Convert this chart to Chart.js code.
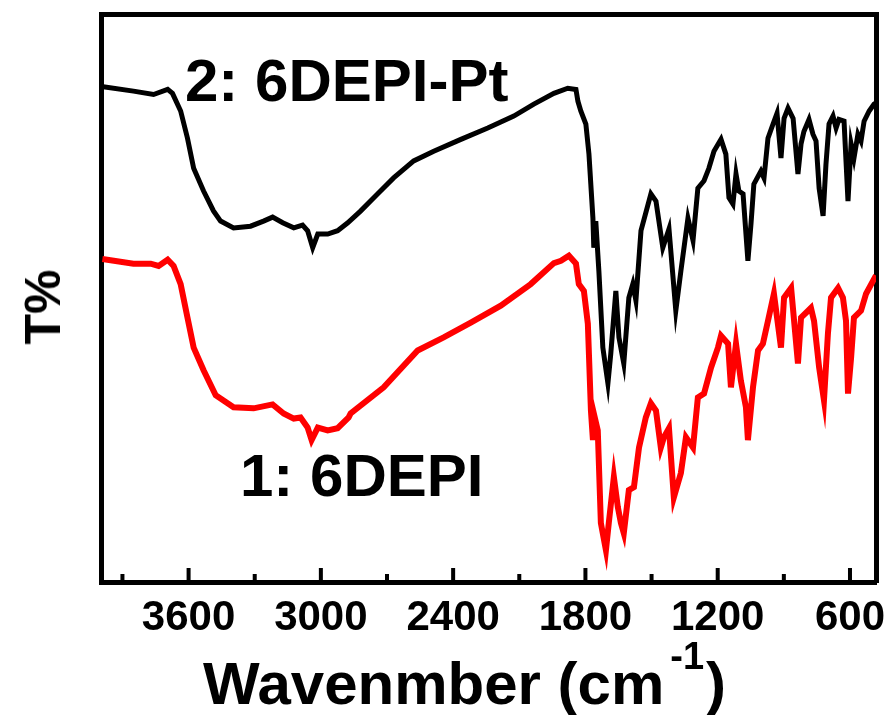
<!DOCTYPE html>
<html>
<head>
<meta charset="utf-8">
<script src="https://cdn.jsdelivr.net/npm/chart.js@4"></script>
<style>
  html, body { margin: 0; padding: 0; background: #fff; overflow: hidden; }
  #wrap { width: 889px; height: 715px; position: relative; }
  canvas { display: block; }
  .lbl { position: absolute; font-family: "Liberation Sans", Arial, sans-serif; font-weight: bold; color: #000; white-space: nowrap; }
  .big { font-size: 60px; line-height: 60px; }
  #ytitle { left: 43px; top: 307px; font-size: 50px; line-height: 50px; transform: translate(-50%, -50%) rotate(-90deg); }
  #xtitle sup { font-size: 38px; position: relative; top: -35px; vertical-align: baseline; line-height: 0; margin: 0 2px 0 6px; }
</style>
</head>
<body>
<div id="wrap">
  <canvas id="ftir" width="889" height="715"></canvas>
  <div class="lbl big" style="left:185px; top:51px;">2: 6DEPI-Pt</div>
  <div class="lbl big" style="left:240px; top:446px;">1: 6DEPI</div>
  <div class="lbl" id="ytitle">T%</div>
  <div class="lbl big" id="xtitle" style="left:203px; top:654px;">Wavenmber (cm<sup>-1</sup>)</div>
</div>
<script>
// 2: 6DEPI-Pt (black trace)
const ptWavenumber = [3995, 3850, 3759, 3695, 3673, 3636, 3605, 3577, 3532, 3487, 3455, 3396, 3319, 3260, 3219, 3173, 3123, 3083, 3060, 3037, 3014, 2969, 2924, 2878, 2819, 2742, 2670, 2579, 2488, 2365, 2243, 2125, 2034, 1943, 1880, 1843, 1834, 1821, 1798, 1784, 1766, 1762, 1753, 1739, 1721, 1698, 1685, 1662, 1648, 1626, 1603, 1585, 1571, 1548, 1503, 1480, 1449, 1421, 1390, 1367, 1335, 1312, 1290, 1262, 1240, 1217, 1185, 1163, 1149, 1131, 1117, 1104, 1085, 1063, 1049, 1036, 1004, 990, 972, 949, 931, 913, 899, 881, 858, 836, 822, 809, 786, 768, 754, 740, 722, 709, 695, 677, 663, 650, 627, 609, 595, 582, 564, 550, 536, 513, 491, 482];
const ptT = [87.3, 86.5, 85.9, 86.8, 86.1, 83.0, 78.2, 72.9, 68.9, 65.4, 63.6, 62.4, 62.7, 63.6, 64.3, 63.3, 62.4, 62.9, 61.9, 58.9, 61.3, 61.3, 61.9, 63.3, 65.4, 68.4, 71.2, 74.2, 75.9, 78.0, 80.0, 82.1, 84.2, 86.1, 87.0, 86.8, 84.7, 83.0, 80.7, 75.4, 64.1, 58.9, 63.6, 54.8, 41.3, 35.0, 40.2, 51.3, 43.1, 38.5, 50.1, 52.5, 49.6, 61.9, 68.4, 67.1, 58.9, 62.2, 47.8, 54.8, 64.1, 60.2, 69.4, 70.7, 72.9, 75.9, 78.0, 75.4, 67.7, 66.6, 71.9, 68.9, 68.4, 56.6, 63.1, 70.1, 72.4, 71.2, 78.2, 80.7, 82.6, 74.7, 81.7, 83.5, 81.7, 71.9, 77.2, 79.4, 81.5, 78.9, 77.7, 69.4, 64.5, 73.6, 80.7, 82.1, 80.0, 81.5, 81.2, 67.1, 77.2, 74.7, 78.9, 77.7, 81.2, 83.0, 84.2, 84.4];

// 1: 6DEPI (red trace)
const ligandWavenumber = [3991, 3850, 3772, 3736, 3695, 3668, 3636, 3605, 3577, 3532, 3477, 3396, 3305, 3219, 3169, 3123, 3092, 3060, 3042, 3014, 2969, 2924, 2874, 2865, 2715, 2561, 2443, 2320, 2184, 2048, 1943, 1911, 1875, 1843, 1830, 1807, 1789, 1775, 1766, 1762, 1744, 1730, 1707, 1694, 1671, 1653, 1639, 1626, 1603, 1580, 1557, 1526, 1503, 1480, 1458, 1444, 1421, 1399, 1367, 1344, 1312, 1290, 1262, 1230, 1199, 1185, 1153, 1140, 1117, 1095, 1072, 1063, 1040, 1017, 995, 972, 945, 913, 899, 867, 836, 822, 790, 777, 763, 740, 718, 700, 686, 654, 632, 618, 609, 595, 582, 550, 527, 495, 482];
const ligandT = [56.9, 56.1, 56.1, 55.7, 56.8, 55.7, 52.5, 46.6, 41.3, 37.3, 32.9, 30.8, 30.6, 31.3, 29.7, 28.8, 29.0, 27.2, 25.0, 27.2, 26.7, 27.1, 29.0, 29.7, 34.3, 40.8, 43.1, 45.7, 48.7, 52.5, 56.2, 56.6, 57.5, 56.1, 52.5, 51.3, 45.5, 30.2, 25.0, 29.7, 26.7, 10.4, 5.6, 10.4, 18.5, 13.2, 10.4, 8.6, 16.2, 16.7, 23.7, 29.0, 31.5, 30.2, 23.7, 25.5, 27.1, 14.9, 19.2, 25.5, 23.7, 32.5, 33.2, 37.8, 41.3, 43.4, 42.0, 34.3, 42.0, 35.5, 30.8, 25.0, 34.3, 40.8, 42.0, 46.0, 50.8, 41.3, 50.1, 51.8, 38.5, 46.6, 47.8, 48.3, 46.0, 37.8, 32.0, 43.8, 50.1, 51.8, 50.1, 46.0, 33.2, 39.5, 46.6, 47.8, 50.8, 53.1, 54.0];

const majorTicks = [3600, 3000, 2400, 1800, 1200, 600];
const minorTicks = [3900, 3300, 2700, 2100, 1500, 900];

const FONT = '"Liberation Sans", Arial, sans-serif';

const toPoints = (xs, ys) => xs.map((x, i) => ({ x: x, y: ys[i] }));

// a plain framed axis: border only, no grid, no labels
const frameAxis = (position, extra) => Object.assign({
    position: position,
    display: true,
    grid: { display: false, drawTicks: false },
    border: { display: true, width: 5, color: '#000' },
    ticks: { display: false }
}, extra);

// inward ticks and tick labels
const tickPlugin = {
    id: 'inwardTicks',
    afterDraw(chart) {
        const { ctx, chartArea: a, scales: { x } } = chart;
        ctx.save();
        ctx.fillStyle = '#000';
        majorTicks.forEach(v => ctx.fillRect(x.getPixelForValue(v) - 2, a.bottom - 14, 4, 14));
        minorTicks.forEach(v => ctx.fillRect(x.getPixelForValue(v) - 2, a.bottom - 8, 4, 8));
        ctx.font = 'bold 42px ' + FONT;
        ctx.textAlign = 'center';
        majorTicks.forEach(v => ctx.fillText(String(v), x.getPixelForValue(v), a.bottom + 48));
        ctx.restore();
    }
};

new Chart(document.getElementById('ftir'), {
    type: 'line',
    data: {
        datasets: [
            { label: '2: 6DEPI-Pt', data: toPoints(ptWavenumber, ptT), borderColor: '#000', borderWidth: 5, pointRadius: 0 },
            { label: '1: 6DEPI', data: toPoints(ligandWavenumber, ligandT), borderColor: '#ff0000', borderWidth: 6, pointRadius: 0 }
        ]
    },
    options: {
        responsive: false,
        animation: false,
        devicePixelRatio: 1,
        layout: { padding: { left: 101.5, top: 14.5, right: 13, bottom: 133 } },
        plugins: { legend: { display: false }, tooltip: { enabled: false } },
        scales: {
            x: frameAxis('bottom', { type: 'linear', reverse: true, min: 482, max: 3995 }),
            y: frameAxis('left', { min: 0, max: 100 }),
            xTop: frameAxis('top', { type: 'linear', reverse: true, min: 482, max: 3995 }),
            yRight: frameAxis('right', { type: 'linear', min: 0, max: 100 })
        }
    },
    plugins: [tickPlugin]
});
</script>
</body>
</html>
